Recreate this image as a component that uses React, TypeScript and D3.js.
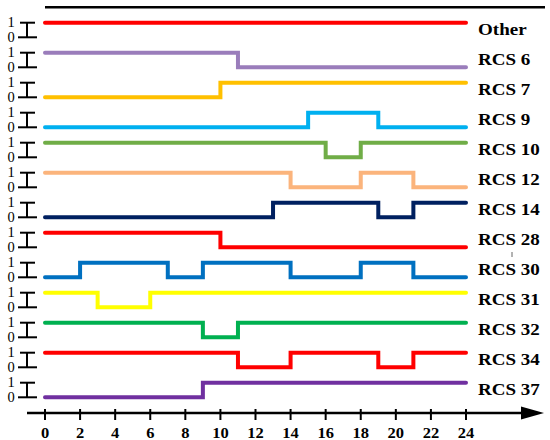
import React from "react";
import * as d3 from "d3";

const seriesNames = ["Other", "RCS 6", "RCS 7", "RCS 9", "RCS 10", "RCS 12", "RCS 14", "RCS 28", "RCS 30", "RCS 31", "RCS 32", "RCS 34", "RCS 37"];
const seriesColors = ["#ff0000", "#9a7dbb", "#ffc000", "#00b0f0", "#70ad47", "#fbb47c", "#002060", "#ff0000", "#0070c0", "#ffff00", "#00b050", "#ff0000", "#7030a0"];
// [hour, state] change points; each holds until the next, last holds to 24
const seriesSteps: [number, number][][] = [
  [[0, 1]],
  [[0, 1], [11, 0]],
  [[0, 0], [10, 1]],
  [[0, 0], [15, 1], [19, 0]],
  [[0, 1], [16, 0], [18, 1]],
  [[0, 1], [14, 0], [18, 1], [21, 0]],
  [[0, 0], [13, 1], [19, 0], [21, 1]],
  [[0, 1], [10, 0]],
  [[0, 0], [2, 1], [7, 0], [9, 1], [14, 0], [18, 1], [21, 0]],
  [[0, 1], [3, 0], [6, 1]],
  [[0, 1], [9, 0], [11, 1]],
  [[0, 1], [11, 0], [14, 1], [19, 0], [21, 1]],
  [[0, 0], [9, 1]],
];
const xTicks = [0, 2, 4, 6, 8, 10, 12, 14, 16, 18, 20, 22, 24];
const stateLabels = ["1", "0"];

export default function App() {
  const x = d3.scaleLinear().domain([0, 24]).range([45, 466]);
  const row = d3.scaleLinear().domain([0, 12]).range([22.7, 382.7]);
  const amp = d3.scaleLinear().domain([1, 0]).range([0, 14.6]);
  const axisY = 413;
  const font = "Liberation Serif";

  return (
    <svg width={550} height={440} style={{ position: "absolute", left: 0, top: 0, background: "#fff" }}>
      <line x1={45} x2={545} y1={7.3} y2={7.3} stroke="#000" strokeWidth={2.5} />
      {seriesNames.map((name, i) => {
        const base = row(i);
        const pts: [number, number][] = [...seriesSteps[i], [24, seriesSteps[i][seriesSteps[i].length - 1][1]]];
        const line = d3
          .line<[number, number]>()
          .x((d) => x(d[0]))
          .y((d) => base + amp(d[1]))
          .curve(d3.curveStepAfter);
        const y1 = base + amp(1);
        const y0 = base + amp(0);
        return (
          <g key={name}>
            <line x1={20} x2={35} y1={y1} y2={y1} stroke="#000" strokeWidth={2} />
            <line x1={18} x2={37} y1={y0} y2={y0} stroke="#000" strokeWidth={2} />
            <line x1={27} x2={27} y1={y1} y2={y0} stroke="#000" strokeWidth={2} />
            <text x={11} y={y1} dy="0.3em" textAnchor="middle" fontFamily={font} fontSize={14.5}>{stateLabels[0]}</text>
            <text x={11} y={y0} dy="0.33em" textAnchor="middle" fontFamily={font} fontSize={14.5}>{stateLabels[1]}</text>
            <path d={line(pts) || ""} fill="none" stroke={seriesColors[i]} strokeWidth={4} strokeLinecap="round" strokeLinejoin="miter" />
            <text
              transform={`translate(478,${(y1 + y0) / 2 - 0.5}) scale(1.12,1)`}
              dy="0.35em"
              fontFamily={font}
              fontWeight="bold"
              fontSize={17}
            >
              {name}
            </text>
          </g>
        );
      })}
      <line x1={512} x2={512} y1={252} y2={257} stroke="#666" strokeWidth={1} />
      <line x1={27} x2={526} y1={axisY} y2={axisY} stroke="#000" strokeWidth={2.5} />
      <polygon points={`521,${axisY - 6.5} 544,${axisY} 521,${axisY + 6.5}`} fill="#000" />
      {xTicks.map((t) => (
        <g key={t}>
          <line x1={x(t)} x2={x(t)} y1={axisY - 4} y2={axisY + 7} stroke="#000" strokeWidth={2} />
          <text
            transform={`translate(${x(t)},${433}) scale(1.1,1)`}
            dy="0.35em"
            textAnchor="middle"
            fontFamily={font}
            fontWeight="bold"
            fontSize={15}
          >
            {t}
          </text>
        </g>
      ))}
    </svg>
  );
}
